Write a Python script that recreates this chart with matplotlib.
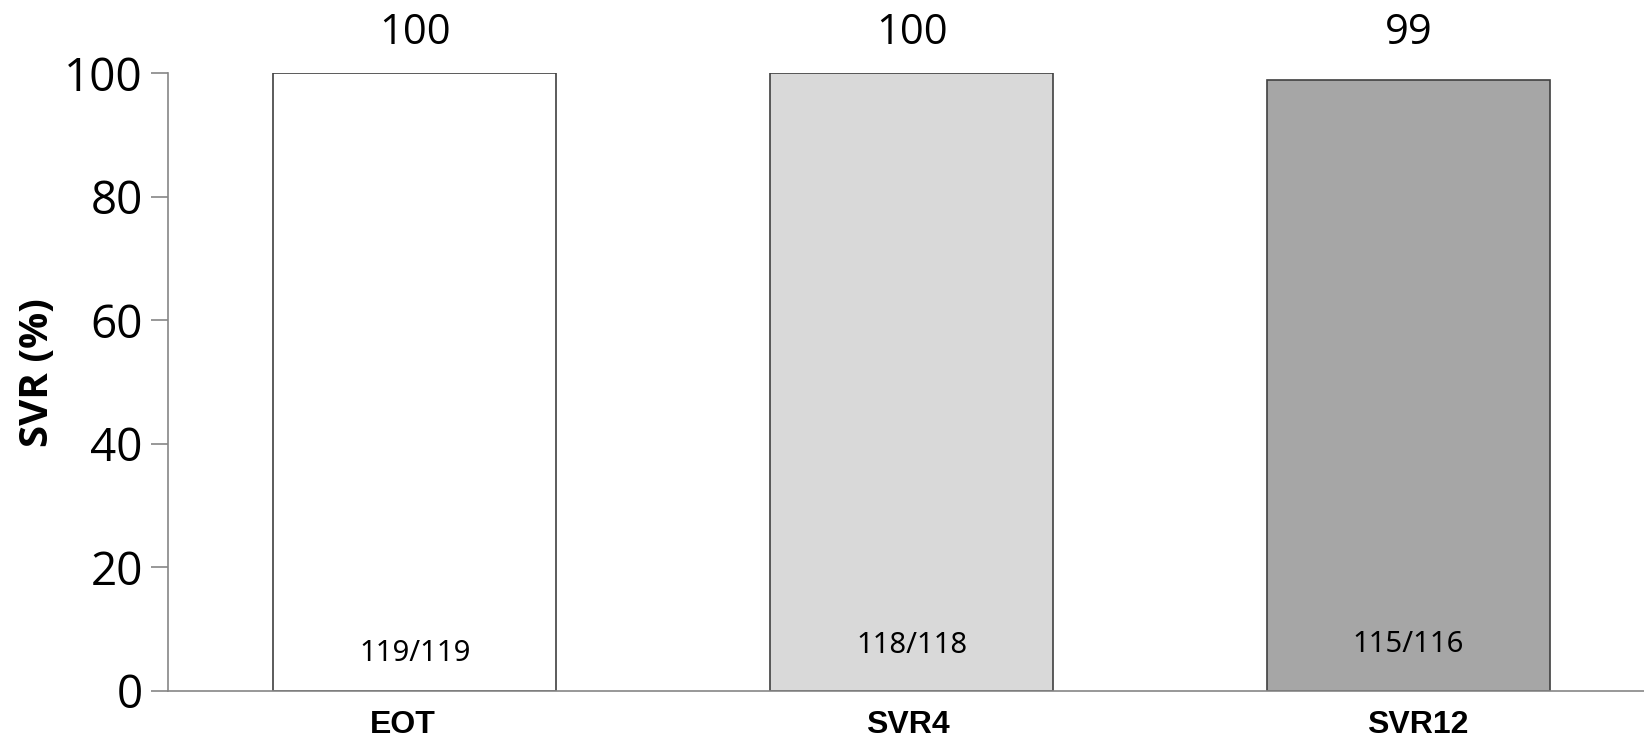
import matplotlib
matplotlib.use('Agg')
from matplotlib import pyplot as plt
from matplotlib.transforms import ScaledTranslation

categories = ['EOT', 'SVR4', 'SVR12']
svr_pct = [100, 100, 99]
counts = ['119/119', '118/118', '115/116']
count_y = [6.0, 7.3, 7.6]
bar_colors = ['#ffffff', '#d9d9d9', '#a6a6a6']
yticks = [0, 20, 40, 60, 80, 100]

fig = plt.figure(figsize=(16.44, 7.43), dpi=100)
ax = fig.add_axes([0.1021, 0.07, 0.8979, 0.8312])

x = list(range(len(categories)))
ax.bar(x, svr_pct, width=0.57, color=bar_colors, edgecolor='#404040', linewidth=1.2, zorder=2)

for xi, val in zip(x, svr_pct):
    ax.text(xi, 106.6, str(val), ha='center', va='center', fontsize=30,
            family='Open Sans', clip_on=False)

for xi, c, cy in zip(x, counts, count_y):
    ax.text(xi, cy, c, ha='center', va='center', fontsize=21,
            family='Noto Sans', stretch='condensed')

ax.set_xlim(-0.497, 2.474)
ax.set_ylim(0, 100)
ax.set_yticks(yticks)
ax.set_yticklabels([str(t) for t in yticks], fontsize=33, family='Open Sans')
ax.tick_params(axis='y', length=12, width=1.2, color='#868686', pad=6)

ax.set_xticks(x)
ax.set_xticklabels(categories, fontsize=23, fontweight='bold', family='Liberation Sans')
ax.tick_params(axis='x', length=0, pad=14)
# nudge category labels sideways a little
for lab, dx in zip(ax.get_xticklabels(), [-12, -4, 9]):
    lab.set_transform(lab.get_transform() + ScaledTranslation(dx / 100, 0, fig.dpi_scale_trans))

ax.set_ylabel('SVR (%)', fontsize=29, fontweight='bold', family='Open Sans')
ax.yaxis.set_label_coords(-0.075, 0.515)

for side in ['top', 'right']:
    ax.spines[side].set_visible(False)
for side in ['left', 'bottom']:
    ax.spines[side].set_color('#868686')
    ax.spines[side].set_linewidth(1.2)

fig.savefig('out.png', dpi=100)
